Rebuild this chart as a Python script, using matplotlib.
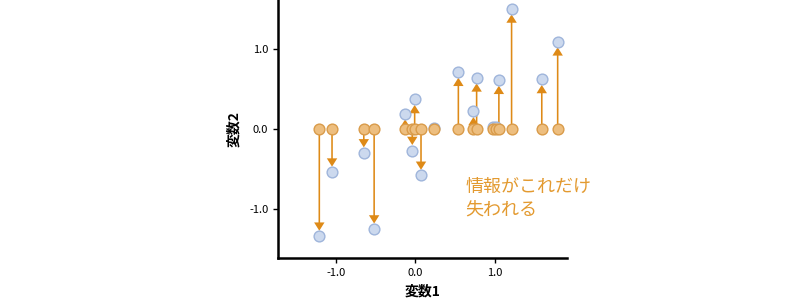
import matplotlib
matplotlib.use("Agg")
import matplotlib.pyplot as plt
import numpy as np

plt.rcParams['font.family'] = ['Noto Sans CJK JP', 'DejaVu Sans']

# data: variable 1 (x) and variable 2 (y) of the original points
var1 = [-1.21, -1.05, -0.65, -0.52, -0.13, -0.04, -0.01, 0.07, 0.23,
        0.54, 0.73, 0.77, 0.98, 1.02, 1.05, 1.21, 1.59, 1.79]
var2 = [-1.34, -0.54, -0.30, -1.25, 0.19, -0.27, 0.37, -0.58, 0.01,
        0.71, 0.22, 0.64, 0.03, 0.03, 0.61, 1.50, 0.62, 1.09]
xticks = [-1.0, 0.0, 1.0]
yticks = [-1.0, 0.0, 1.0]
note = "情報がこれだけ\n失われる"
xlabel = "変数1"
ylabel = "変数2"

ORANGE = "#DE8A17"
x = np.array(var1)
y = np.array(var2)
zero = np.zeros_like(x)

fig = plt.figure(figsize=(8, 3), dpi=100)
ax = fig.add_axes([0.3475, 0.14, 0.3615, 0.86])

# arrows from projected point to original point, stopping short of the marker
gap = 0.07
dy = y - np.sign(y) * np.minimum(gap, np.abs(y))
ax.quiver(x, zero, np.zeros_like(x), dy, angles='xy', scale_units='xy', scale=1,
          color=ORANGE, units='dots', width=1.6, headwidth=6.5, headlength=5.2,
          headaxislength=5.2, zorder=2)

ax.scatter(x, y, s=60, facecolor="#CCD9EE", edgecolor="#9FB5DB", linewidth=1, zorder=3)
ax.scatter(x, zero, s=60, facecolor="#EDBE7F", edgecolor="#D99B4A", linewidth=1, zorder=4)

ax.set_xlim(-1.73, 1.91)
ax.set_ylim(-1.61, 1.61)
ax.set_xticks(xticks)
ax.set_yticks(yticks)
ax.set_xticklabels([f"{v:.1f}" for v in xticks])
ax.set_yticklabels([f"{v:.1f}" for v in yticks])
ax.tick_params(labelsize=8, length=3.5, width=1)
for s in ['top', 'right']:
    ax.spines[s].set_visible(False)
for s in ['left', 'bottom']:
    ax.spines[s].set_linewidth(1.8)

ax.set_xlabel(xlabel, fontsize=10, fontweight='bold', labelpad=5)
ax.set_ylabel(ylabel, fontsize=10, fontweight='bold', labelpad=6)

ax.text(0.63, -0.615, note, color="#E39A30", fontsize=13, va='top', ha='left',
        linespacing=1.32)

fig.savefig("out.png", dpi=100)
